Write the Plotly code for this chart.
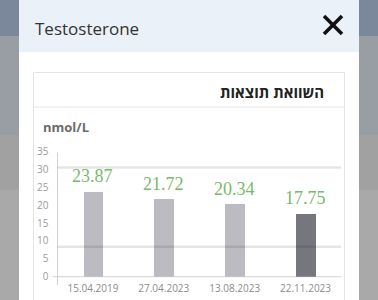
import plotly.graph_objects as go

dates = ["15.04.2019", "27.04.2023", "13.08.2023", "22.11.2023"]
values = [23.87, 21.72, 20.34, 17.75]
bar_colors = ["#bbbbc1", "#bbbbc1", "#bbbbc1", "#76767e"]
ref_low = 8.4
ref_high = 30.6
y_ticks = [0, 5, 10, 15, 20, 25, 30, 35]

W, H = 378, 300


def px(x):
    return x / W


def py(y):
    return 1 - y / H


fig = go.Figure()
fig.add_trace(go.Bar(
    x=dates, y=values, marker=dict(color=bar_colors, line=dict(width=0)),
    width=0.28, hoverinfo="skip", showlegend=False,
))

shapes = []


def rect(x0, y0, x1, y1, fill, line=None, lw=0):
    shapes.append(dict(type="rect", xref="paper", yref="paper",
                       x0=px(x0), x1=px(x1), y0=py(y1), y1=py(y0),
                       fillcolor=fill, line=dict(color=line or fill, width=lw),
                       layer="below"))


def line(x0, y0, x1, y1, color, w=1, layer="below"):
    shapes.append(dict(type="line", xref="paper", yref="paper",
                       x0=px(x0), x1=px(x1), y0=py(y0), y1=py(y1),
                       line=dict(color=color, width=w), layer=layer))


# backdrop
rect(-5, -5, 383, 36, "#7b889c")
rect(-5, 36, 383, 135, "#999ea5")
rect(-5, 135, 383, 190, "#a1a1a2")
rect(-5, 190, 383, 305, "#a9a9a9")
# modal
rect(19, -5, 359, 305, "#ffffff")
rect(19, -5, 359, 52, "#eaf1f8")
# card
shapes.append(dict(type="rect", xref="paper", yref="paper",
                   x0=px(33.5), x1=px(344.5), y0=py(310), y1=py(72.5),
                   fillcolor="#ffffff", line=dict(color="#e4e4e4", width=1),
                   layer="below"))
line(33.5, 107, 344.5, 107, "#e4e4e4")
# close icon
line(324, 16, 342, 34, "#111111", 3.5, "above")
line(342, 16, 324, 34, "#111111", 3.5, "above")
# axis lines
line(57.5, 152.5, 57.5, 285, "#d2d2d2")
line(53, 276.7, 341, 276.7, "#d2d2d2")
# reference lines
for v in (ref_low, ref_high):
    shapes.append(dict(type="line", xref="x domain", yref="y",
                       x0=0, x1=1, y0=v, y1=v,
                       line=dict(color="rgba(0,0,0,0.10)", width=2.5),
                       layer="above"))

annotations = [
    dict(text="Testosterone", x=px(33), y=py(28), xref="paper", yref="paper",
         xanchor="left", yanchor="middle", showarrow=False,
         font=dict(family="Open Sans", size=17, color="#333333")),
    dict(text="השוואת תוצאות", x=px(326), y=py(92), xref="paper", yref="paper",
         xanchor="right", yanchor="middle", showarrow=False,
         font=dict(family="Open Sans", size=15, color="#222222", weight="bold")),
    dict(text="<b>nmol/L</b>", x=px(41), y=py(127), xref="paper", yref="paper",
         xanchor="left", yanchor="middle", showarrow=False,
         font=dict(family="Open Sans", size=13, color="#6b6b6b")),
]
for d, v in zip(dates, values):
    annotations.append(dict(text=f"{v:.2f}", x=d, y=v, xref="x", yref="y",
                            xanchor="center", yanchor="bottom", yshift=3,
                            showarrow=False,
                            font=dict(family="Liberation Serif", size=18,
                                      color="#79b96c")))

fig.update_layout(
    width=W, height=H,
    margin=dict(l=0, r=0, t=0, b=0, pad=0, autoexpand=False),
    paper_bgcolor="#a9a9a9", plot_bgcolor="rgba(0,0,0,0)",
    shapes=shapes, annotations=annotations, bargap=0,
    xaxis=dict(domain=[px(57.5), px(341)], type="category", automargin=False,
               showline=False, showgrid=False, zeroline=False, ticks="",
               tickfont=dict(family="Open Sans", size=10, color="#8c8c8c"),
               ticklabelstandoff=4, fixedrange=True),
    yaxis=dict(domain=[py(276.7), py(151.7)], range=[0, 35], automargin=False,
               tickvals=y_ticks, showline=False, showgrid=False,
               zeroline=False, ticks="",
               tickfont=dict(family="Open Sans", size=10, color="#9a9a9a"),
               ticklabelstandoff=8, fixedrange=True),
)

fig.write_html("out.html", config={"displayModeBar": False})
